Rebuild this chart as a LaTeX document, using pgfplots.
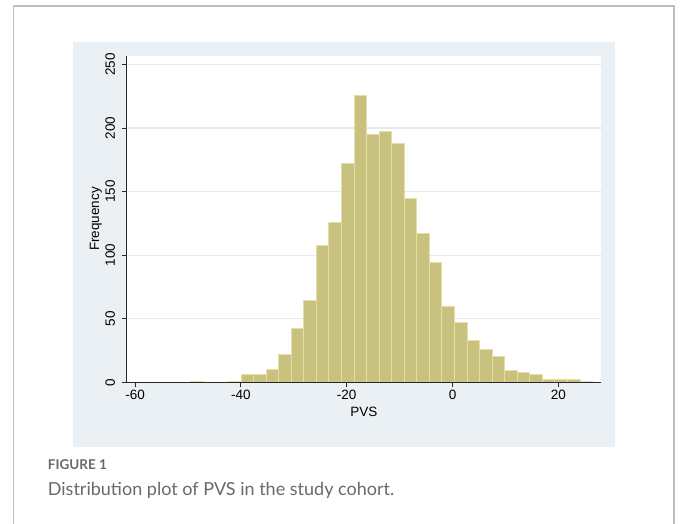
\documentclass[border=0pt]{standalone}
\usepackage{fontspec}
\setmainfont{Liberation Sans}
\newfontfamily\capfont{Lato}
\usepackage{pgfplots}
\pgfplotsset{compat=1.18}

\definecolor{panel}{RGB}{234,240,243}
\definecolor{gridc}{RGB}{226,234,238}
\definecolor{barfill}{RGB}{201,194,126}
\definecolor{barline}{RGB}{228,223,168}
\definecolor{framec}{RGB}{190,190,190}
\definecolor{axisc}{RGB}{40,40,40}
\definecolor{capgray}{RGB}{105,105,105}

\begin{document}
\begin{tikzpicture}[x=1pt,y=1pt]
\path[use as bounding box] (0,0) rectangle (680,524);
% outer frame and graph region
\draw[framec, line width=1.3pt] (13.3,0) -- (13.3,518) -- (674,518) -- (674,0);
\fill[panel] (72.7,77) rectangle (615,482);

\begin{axis}[
    scale only axis, width=474.3pt, height=326.6pt,
    at={(126.7pt,141.7pt)}, anchor=south west,
    xmin=-61.57, xmax=28.05, ymin=0, ymax=257,
    axis lines*=left,
    axis line style={axisc, line width=0.9pt},
    axis background/.style={fill=white},
    tick align=outside, major tick length=5pt,
    tick style={axisc, line width=0.9pt},
    xtick={-60,-40,-20,0,20},
    xticklabels={-60,-40,-20,0,20},
    ytick={0,50,100,150,200,250},
    yticklabels={0,50,100,150,200,250},
    tick label style={font=\fontsize{13.5}{15}\selectfont},
    xticklabel style={inner sep=3pt},
    yticklabel style={rotate=90, anchor=south, inner sep=6.5pt},
    ymajorgrids, grid style={gridc, line width=1.3pt},
    xlabel={PVS}, ylabel={Frequency},
    label style={font=\fontsize{13.5}{15}\selectfont},
    xlabel style={at={(axis description cs:0.5,-0.091)}, anchor=center},
    ylabel style={at={(axis description cs:-0.065,0.5)}, anchor=center, rotate=0},
]
% bins of width 2.372 starting at -49.44
\addplot[ybar interval, fill=barfill, draw=barline, line width=1pt] coordinates {
    (-49.440,1) (-47.068,1)
};
\addplot[ybar interval, fill=barfill, draw=barline, line width=1pt] coordinates {
    (-42.324,1) (-39.952,6) (-37.580,6) (-35.208,10) (-32.836,22)
    (-30.464,42) (-28.092,64) (-25.720,108) (-23.348,126) (-20.976,172)
    (-18.604,226) (-16.232,195) (-13.860,197) (-11.488,188) (-9.116,145)
    (-6.744,117) (-4.372,94) (-2.000,60) (0.372,47) (2.744,33)
    (5.116,26) (7.488,20) (9.860,9) (12.232,8) (14.604,6)
    (16.976,2) (19.348,2) (21.720,2) (24.092,1) (26.464,1)
};
\draw[axisc, line width=0.9pt] (rel axis cs:0,0) -- (rel axis cs:1,0);
\end{axis}

% caption
\node[anchor=base west, inner sep=0pt, text=capgray] at (47.7,54.3)
    {\capfont\bfseries\fontsize{13.5}{15}\selectfont FIGURE 1};
\node[anchor=base west, inner sep=0pt, text=capgray] at (47.7,28.7)
    {\capfont\fontsize{18}{21}\selectfont Distribution plot of PVS in the study cohort.};
\end{tikzpicture}
\end{document}
